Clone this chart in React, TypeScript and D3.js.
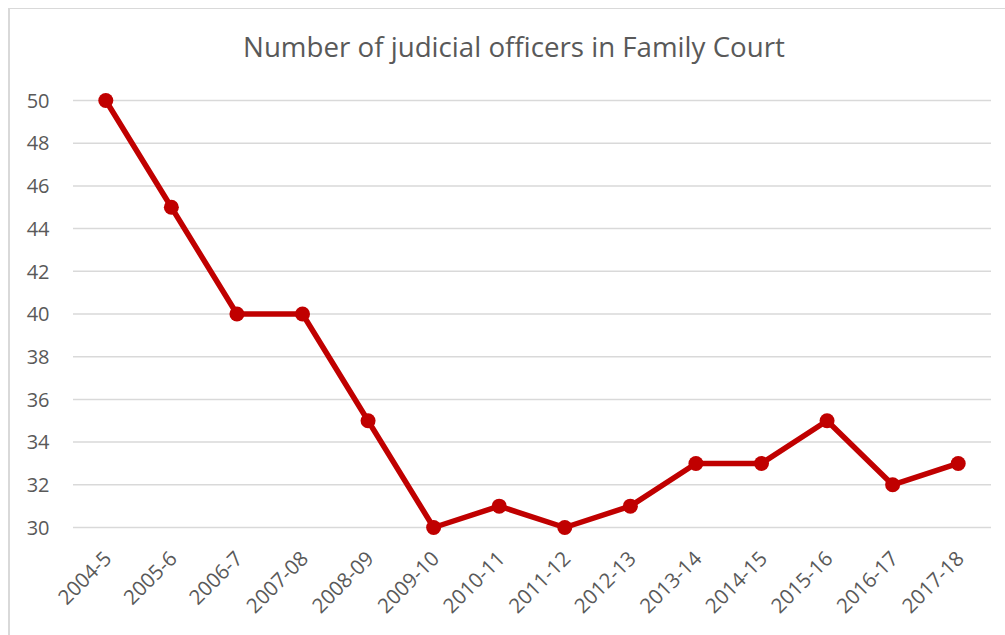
import React from "react";
import * as d3 from "d3";

const categories = ["2004-5","2005-6","2006-7","2007-08","2008-09","2009-10","2010-11","2011-12","2012-13","2013-14","2014-15","2015-16","2016-17","2017-18"];
const officers = [50,45,40,40,35,30,31,30,31,33,33,35,32,33];
const yTicks = [30,32,34,36,38,40,42,44,46,48,50];
const title = "Number of judicial officers in Family Court";

const W = 1005, H = 635;
const plotLeft = 73, plotRight = 991, plotTop = 100.5, plotBottom = 527.5;
const FONT = "'Open Sans', sans-serif";
const TEXT = "#595959";
const GRID = "#d9d9d9";
const RED = "#C00000";

export default function App() {
  const x = d3.scaleBand<string>().domain(categories).range([plotLeft, plotRight]);
  const y = d3.scaleLinear().domain([30, 50]).range([plotBottom, plotTop]);
  const cx = (c: string) => (x(c) as number) + x.bandwidth() / 2;
  const line = d3.line<number>().x((_, i) => cx(categories[i])).y((d) => y(d));

  return (
    <svg width={W} height={H} style={{ position: "absolute", left: 0, top: 0, background: "#fff" }}>
      <rect x={0} y={0} width={W} height={H} fill="#fff" />
      <line x1={8} x2={W} y1={8.5} y2={8.5} stroke={GRID} strokeWidth={1} />
      <line x1={9} x2={9} y1={8} y2={H} stroke={GRID} strokeWidth={2} />
      <text x={514} y={57} textAnchor="middle" fontFamily={FONT} fontSize={27.7} fill={TEXT}>{title}</text>
      {yTicks.map((t) => (
        <g key={t}>
          <line x1={plotLeft} x2={plotRight} y1={y(t)} y2={y(t)} stroke={GRID} strokeWidth={1.5} />
          <text x={49.5} y={y(t)} dy="0.36em" textAnchor="end" fontFamily={FONT} fontSize={20} fill={TEXT}>{t}</text>
        </g>
      ))}
      {categories.map((c) => (
        <text key={c} transform={`translate(${cx(c) + 7},${560}) rotate(-45)`} textAnchor="end" fontFamily={FONT} fontSize={20.5} fill={TEXT}>{c}</text>
      ))}
      <path d={line(officers) || ""} fill="none" stroke={RED} strokeWidth={5.5} strokeLinejoin="round" />
      {officers.map((v, i) => (
        <circle key={i} cx={cx(categories[i])} cy={y(v)} r={7.5} fill={RED} />
      ))}
    </svg>
  );
}
